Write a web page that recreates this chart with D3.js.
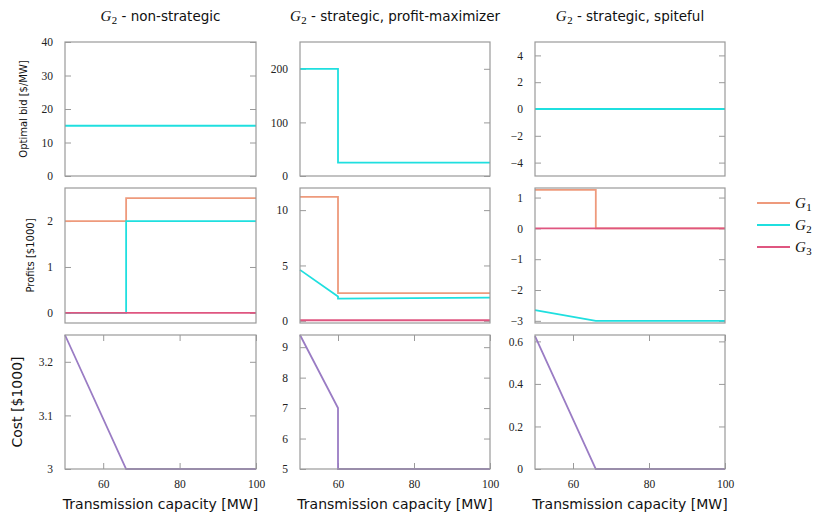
<!DOCTYPE html>
<html>
<head>
<meta charset="utf-8">
<script src="https://cdn.jsdelivr.net/npm/d3@7"></script>
<style>
  html, body { margin: 0; padding: 0; background: #fff; }
  svg { display: block; }
  .tick text { font-family: "Liberation Serif", "DejaVu Serif", serif; font-size: 11.5px; fill: #222; }
  .sans { font-family: "DejaVu Sans", sans-serif; fill: #111; }
  .ital { font-family: "Liberation Serif", "DejaVu Serif", serif; font-style: italic; fill: #111; }
</style>
</head>
<body>
<svg id="chart" width="818" height="515"></svg>
<script>
// ---- data ----------------------------------------------------------------
const scenarios = ["non-strategic", "strategic, profit-maximizer", "strategic, spiteful"];
const generators = ["G1", "G2", "G3"];
const capacityDomain = [50, 100];
const capacityTicks = [60, 80, 100];

// Optimal bid of G2 [$/MW]
const bidNonStrategicX = [50, 100];
const bidNonStrategic = [15, 15];
const bidProfitMaxX = [50, 60, 60, 100];
const bidProfitMax = [200, 200, 25, 25];
const bidSpitefulX = [50, 100];
const bidSpiteful = [0, 0];

// Profits [$1000]
const profitNonStrategicG1X = [50, 66, 66, 100];
const profitNonStrategicG1 = [2.0, 2.0, 2.5, 2.5];
const profitNonStrategicG2X = [50, 66, 66, 100];
const profitNonStrategicG2 = [0, 0, 2.0, 2.0];
const profitNonStrategicG3X = [50, 100];
const profitNonStrategicG3 = [0, 0];

const profitProfitMaxG1X = [50, 60, 60, 100];
const profitProfitMaxG1 = [11.2, 11.2, 2.5, 2.5];
const profitProfitMaxG2X = [50, 60, 60, 100];
const profitProfitMaxG2 = [4.6, 2.2, 2.0, 2.1];
const profitProfitMaxG3X = [50, 100];
const profitProfitMaxG3 = [0.05, 0.05];

const profitSpitefulG1X = [50, 66, 66, 100];
const profitSpitefulG1 = [1.25, 1.25, 0, 0];
const profitSpitefulG2X = [50, 66, 100];
const profitSpitefulG2 = [-2.65, -3.0, -3.0];
const profitSpitefulG3X = [50, 100];
const profitSpitefulG3 = [0, 0];

// Total cost [$1000]
const costNonStrategicX = [50, 66, 100];
const costNonStrategic = [3.25, 3.0, 3.0];
const costProfitMaxX = [50, 60, 60, 100];
const costProfitMax = [9.4, 7.0, 5.0, 5.0];
const costSpitefulX = [50, 66, 100];
const costSpiteful = [0.625, 0, 0];

// y-axis ticks and ranges per row / column
const bidTicks = [[0, 10, 20, 30, 40], [0, 100, 200], [-4, -2, 0, 2, 4]];
const bidDomains = [[0, 40], [0, 250], [-5, 5]];
const profitTicks = [[0, 1, 2], [0, 5, 10], [-3, -2, -1, 0, 1]];
const profitDomains = [[-0.22, 2.72], [-0.2, 12], [-3.07, 1.31]];
const costTicks = [[3, 3.1, 3.2], [5, 6, 7, 8, 9], [0, 0.2, 0.4, 0.6]];
const costDomains = [[3, 3.25], [5, 9.4], [0, 0.63]];

// ---- styling -------------------------------------------------------------
const colors = { G1: "#ee9a7c", G2: "#1fdfdf", G3: "#df5680", cost: "#9a7cc4" };
const frameColor = "#9a9a9a";
const colX = [[65, 256], [300, 490], [535, 725]];
const rowY = [[42, 176], [188, 323], [335, 469]];
const tickLen = 6;

const svg = d3.select("#chart");
const zip = (xs, ys) => xs.map((x, i) => [x, ys[i]]);
const fmt = d => (d < 0 ? "\u2212" : "") + Math.abs(d);

const bidSeries = [
  [{ key: "G2", pts: zip(bidNonStrategicX, bidNonStrategic) }],
  [{ key: "G2", pts: zip(bidProfitMaxX, bidProfitMax) }],
  [{ key: "G2", pts: zip(bidSpitefulX, bidSpiteful) }]
];
const profitSeries = [
  [
    { key: "G1", pts: zip(profitNonStrategicG1X, profitNonStrategicG1) },
    { key: "G2", pts: zip(profitNonStrategicG2X, profitNonStrategicG2) },
    { key: "G3", pts: zip(profitNonStrategicG3X, profitNonStrategicG3) }
  ],
  [
    { key: "G1", pts: zip(profitProfitMaxG1X, profitProfitMaxG1) },
    { key: "G2", pts: zip(profitProfitMaxG2X, profitProfitMaxG2) },
    { key: "G3", pts: zip(profitProfitMaxG3X, profitProfitMaxG3) }
  ],
  [
    { key: "G1", pts: zip(profitSpitefulG1X, profitSpitefulG1) },
    { key: "G2", pts: zip(profitSpitefulG2X, profitSpitefulG2) },
    { key: "G3", pts: zip(profitSpitefulG3X, profitSpitefulG3) }
  ]
];
const costSeries = [
  [{ key: "cost", pts: zip(costNonStrategicX, costNonStrategic) }],
  [{ key: "cost", pts: zip(costProfitMaxX, costProfitMax) }],
  [{ key: "cost", pts: zip(costSpitefulX, costSpiteful) }]
];

const rows = [
  { ticks: bidTicks, domains: bidDomains, series: bidSeries },
  { ticks: profitTicks, domains: profitDomains, series: profitSeries },
  { ticks: costTicks, domains: costDomains, series: costSeries }
];

function panel(r, c) {
  const row = rows[r];
  const x = d3.scaleLinear().domain(capacityDomain).range(colX[c]);
  const y = d3.scaleLinear().domain(row.domains[c]).range([rowY[r][1], rowY[r][0]]);
  const g = svg.append("g");
  const [x0, x1] = colX[c], [y0, y1] = rowY[r];

  const clipId = `clip-${r}-${c}`;
  g.append("clipPath").attr("id", clipId)
    .append("rect").attr("x", x0 - 1).attr("y", y0 - 1).attr("width", x1 - x0 + 2).attr("height", y1 - y0 + 2);

  // y axis on the left with labels, inward ticks on both sides
  const yl = g.append("g").attr("transform", `translate(${x0},0)`)
    .call(d3.axisLeft(y).tickValues(row.ticks[c]).tickFormat(fmt).tickSize(-tickLen).tickPadding(tickLen + 6));
  const yr = g.append("g").attr("transform", `translate(${x1},0)`)
    .call(d3.axisRight(y).tickValues(row.ticks[c]).tickFormat("").tickSize(-tickLen));
  [yl, yr].forEach(a => {
    a.select(".domain").remove();
    a.selectAll(".tick line").attr("stroke", frameColor);
  });

  if (r === 2) {
    const xb = g.append("g").attr("transform", `translate(0,${y1})`)
      .call(d3.axisBottom(x).tickValues(capacityTicks).tickFormat(fmt).tickSize(-tickLen).tickPadding(tickLen + 5));
    const xt = g.append("g").attr("transform", `translate(0,${y0})`)
      .call(d3.axisTop(x).tickValues(capacityTicks).tickFormat("").tickSize(-tickLen));
    [xb, xt].forEach(a => {
      a.select(".domain").remove();
      a.selectAll(".tick line").attr("stroke", frameColor);
    });
  }

  const line = d3.line().x(d => x(d[0])).y(d => y(d[1]));
  g.append("g").attr("clip-path", `url(#${clipId})`)
    .selectAll("path").data(row.series[c]).join("path")
    .attr("d", d => line(d.pts))
    .attr("fill", "none")
    .attr("stroke", d => colors[d.key])
    .attr("stroke-width", 1.8)
    .attr("stroke-linejoin", "miter");

  g.append("rect")
    .attr("x", x0).attr("y", y0).attr("width", x1 - x0).attr("height", y1 - y0)
    .attr("fill", "none").attr("stroke", frameColor).attr("stroke-width", 1.2);
}

for (let r = 0; r < 3; r++) for (let c = 0; c < 3; c++) panel(r, c);

// "G_n" label: italic G with a roman subscript
function gLabel(sel, n, size) {
  sel.append("tspan").attr("class", "ital").attr("font-size", size).text("G");
  sel.append("tspan").attr("font-family", "Liberation Serif, serif").attr("font-size", size * 0.72)
    .attr("dy", size * 0.22).attr("dx", 0.5).text(n);
}

// column titles
scenarios.forEach((s, c) => {
  const cx = (colX[c][0] + colX[c][1]) / 2;
  const t = svg.append("text").attr("x", cx).attr("y", 21).attr("text-anchor", "middle");
  gLabel(t, "2", 15);
  t.append("tspan").attr("class", "sans").attr("font-size", 13.5).attr("dy", -15 * 0.22).text(" - " + s);
});

// row labels
const yLabels = [
  { text: "Optimal bid [$/MW]", x: 23, size: 10 },
  { text: "Profits [$1000]", x: 30, size: 10 },
  { text: "Cost [$1000]", x: 17, size: 14 }
];
yLabels.forEach((l, r) => {
  const cy = (rowY[r][0] + rowY[r][1]) / 2;
  svg.append("text").attr("class", "sans").attr("font-size", l.size)
    .attr("text-anchor", "middle").attr("dominant-baseline", "central")
    .attr("transform", `translate(${l.x},${cy}) rotate(-90)`).text(l.text);
});

// x-axis labels
colX.forEach(([a, b]) => {
  svg.append("text").attr("class", "sans").attr("font-size", 14)
    .attr("x", (a + b) / 2).attr("y", 509).attr("text-anchor", "middle")
    .text("Transmission capacity [MW]");
});

// legend
const legendY = [203, 225, 247];
generators.forEach((gname, i) => {
  svg.append("line").attr("x1", 757).attr("x2", 790).attr("y1", legendY[i]).attr("y2", legendY[i])
    .attr("stroke", colors[gname]).attr("stroke-width", 1.8);
  const t = svg.append("text").attr("x", 795).attr("y", legendY[i] + 4.5);
  gLabel(t, String(i + 1), 15);
});
</script>
</body>
</html>
